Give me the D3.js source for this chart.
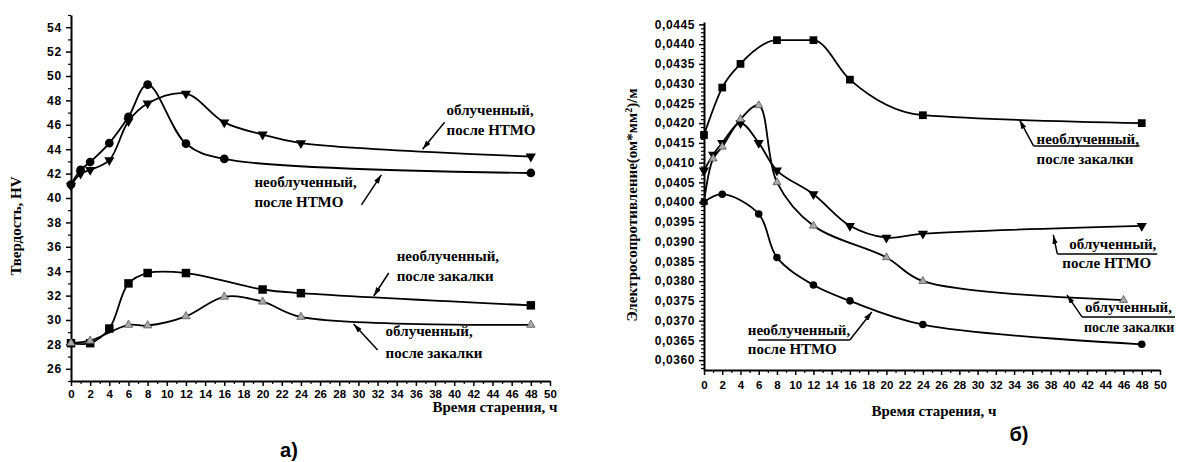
<!DOCTYPE html>
<html><head><meta charset="utf-8">
<script src="https://cdn.jsdelivr.net/npm/d3@7"></script>
<style>body{margin:0;background:#fff}svg{display:block}</style>
</head><body><svg id="c" width="1179" height="462"></svg>
<script>
// ---------- shared ----------
const hourTicks = [0,2,4,6,8,10,12,14,16,18,20,22,24,26,28,30,32,34,36,38,40,42,44,46,48,50];
const hourTickLabels = ["0","2","4","6","8","10","12","14","16","18","20","22","24","26","28","30","32","34","36","38","40","42","44","46","48","50"];

// ---------- panel a: hardness HV ----------
const hvTicks = [26,28,30,32,34,36,38,40,42,44,46,48,50,52,54];
const hvTickLabels = ["26","28","30","32","34","36","38","40","42","44","46","48","50","52","54"];
// необлученный, после НТМО (circles)
const hvUnirrTmtHours = [0,1,2,4,6,8,12,16,48];
const hvUnirrTmtValues = [41.1,42.3,42.95,44.5,46.65,49.3,44.45,43.2,42.05];
// облученный, после НТМО (down triangles)
const hvIrrTmtHours = [0,1,2,4,6,8,12,16,20,24,48];
const hvIrrTmtValues = [41.0,42.0,42.3,43.1,46.3,47.75,48.55,46.2,45.2,44.5,43.4];
// необлученный, после закалки (squares)
const hvUnirrQuenchHours = [0,2,4,6,8,12,20,24,48];
const hvUnirrQuenchValues = [28.1,28.1,29.3,33.0,33.85,33.85,32.5,32.2,31.2];
// облученный, после закалки (up triangles)
const hvIrrQuenchHours = [0,2,6,8,12,16,20,24,48];
const hvIrrQuenchValues = [28.1,28.3,29.6,29.55,30.3,31.9,31.5,30.25,29.6];

// ---------- panel b: resistivity ----------
const resTicks = [0.0360,0.0365,0.0370,0.0375,0.0380,0.0385,0.0390,0.0395,0.0400,0.0405,0.0410,0.0415,0.0420,0.0425,0.0430,0.0435,0.0440,0.0445];
const resTickLabels = ["0,0360","0,0365","0,0370","0,0375","0,0380","0,0385","0,0390","0,0395","0,0400","0,0405","0,0410","0,0415","0,0420","0,0425","0,0430","0,0435","0,0440","0,0445"];
// необлученный, после закалки (squares)
const resUnirrQuenchHours = [0,2,4,8,12,16,24,48];
const resUnirrQuenchValues = [0.0417,0.0429,0.0435,0.0441,0.0441,0.0431,0.0422,0.0420];
// облученный, после НТМО (down triangles)
const resIrrTmtHours = [0,1,2,4,6,8,12,16,20,24,48];
const resIrrTmtValues = [0.0408,0.0412,0.0415,0.0420,0.0415,0.0408,0.0402,0.0394,0.0391,0.0392,0.0394];
// облученный, после закалки (up triangles)
const resIrrQuenchHours = [0,1,2,4,6,8,12,20,24,46];
const resIrrQuenchValues = [0.0400,0.0411,0.0414,0.0421,0.04245,0.0405,0.0394,0.0386,0.0380,0.03752];
// необлученный, после НТМО (circles)
const resUnirrTmtHours = [0,2,6,8,12,16,24,48];
const resUnirrTmtValues = [0.0400,0.0402,0.0397,0.0386,0.0379,0.0375,0.0369,0.0364];

const zip = (a,b) => a.map((v,i)=>[v,b[i]]);

const svg = d3.select("#c");
svg.append("rect").attr("width",1179).attr("height",462).attr("fill","#fff");
const defs = svg.append("defs");
defs.append("marker").attr("id","ah").attr("viewBox","0 0 10 6").attr("refX",10).attr("refY",3)
  .attr("markerWidth",9).attr("markerHeight",5.4).attr("markerUnits","userSpaceOnUse").attr("orient","auto")
  .append("path").attr("d","M0,0L10,3L0,6z").attr("fill","#000");

const SANS = "'Liberation Sans', Arial, sans-serif";
const SERIF = "'Liberation Serif', 'Times New Roman', serif";

function styleAxis(sel, fs, ls){
  sel.select(".domain").attr("stroke","#000").attr("stroke-width",2);
  sel.selectAll(".tick line").attr("stroke","#000").attr("stroke-width",1.5);
  sel.selectAll(".tick text").attr("fill","#000").style("font-family",SANS)
    .style("font-weight","bold").style("font-size",fs+"px").style("letter-spacing",ls+"px");
}

function panel(c){
  const g = svg.append("g");
  const x = d3.scaleLinear().domain([0,50]).range(c.xRange);
  const y = d3.scaleLinear().domain(c.yDomain).range(c.yRange);
  const y0 = c.yRange[0];
  // minor x ticks
  g.append("g").attr("transform",`translate(0,${y0})`)
    .call(d3.axisBottom(x).tickValues(d3.range(1,50,2)).tickSize(3).tickFormat(""))
    .call(s=>{s.select(".domain").remove(); s.selectAll("line").attr("stroke","#000").attr("stroke-width",1.2);});
  // major x axis
  g.append("g").attr("transform",`translate(0,${y0})`)
    .call(d3.axisBottom(x).tickValues(hourTicks).tickSize(5).tickSizeOuter(0).tickPadding(c.xPad)
      .tickFormat((d,i)=>hourTickLabels[i]))
    .call(s=>styleAxis(s,c.xfs,0));
  // minor y ticks
  g.append("g").attr("transform",`translate(${x(0)},0)`)
    .call(d3.axisLeft(y).tickValues(c.yMinor).tickSize(3).tickFormat(""))
    .call(s=>{s.select(".domain").remove(); s.selectAll("line").attr("stroke","#000").attr("stroke-width",1.2);});
  // major y axis
  g.append("g").attr("transform",`translate(${x(0)},0)`)
    .call(d3.axisLeft(y).tickValues(c.yTicks).tickSize(5).tickSizeOuter(0).tickPadding(4)
      .tickFormat((d,i)=>c.yLabels[i]))
    .call(s=>styleAxis(s,c.yfs,c.yls));

  const line = d3.line().x(d=>x(d[0])).y(d=>y(d[1])).curve(d3.curveCatmullRom.alpha(0.5));
  c.series.forEach(s=>{
    const pts = zip(s.h, s.v);
    g.append("path").attr("d", (s.curve ? d3.line().x(d=>x(d[0])).y(d=>y(d[1])).curve(s.curve) : line)(pts))
      .attr("fill","none").attr("stroke","#000").attr("stroke-width",1.8);
    g.selectAll(null).data(pts).join("path")
      .attr("transform",d=>`translate(${x(d[0])},${y(d[1])})${s.rot?" rotate(180)":""}`)
      .attr("d", d3.symbol().type(s.sym).size(s.size)())
      .attr("fill", s.fill).attr("stroke", s.stroke||"none").attr("stroke-width",0.8);
  });

  // annotations: tip in data units, others as pixel offsets
  c.notes.forEach(n=>{
    const tx = x(n.at[0]), ty = y(n.at[1]);
    if (n.sep){
      g.append("line").attr("x1",tx+n.sep[0]).attr("x2",tx+n.sep[1]).attr("y1",ty+n.sep[2]).attr("y2",ty+n.sep[2])
        .attr("stroke","#000").attr("stroke-width",1.5);
    }
    g.append("line").attr("x1",tx+n.tail[0]).attr("y1",ty+n.tail[1]).attr("x2",tx).attr("y2",ty)
      .attr("stroke","#000").attr("stroke-width",1.5).attr("marker-end","url(#ah)");
    n.lines.forEach(l=>{
      g.append("text").attr("x",tx+l[1]).attr("y",ty+l[2]).text(l[0])
        .style("font-family",SERIF).style("font-weight","bold").style("font-size",(l[3]||15)+"px").attr("fill","#000");
    });
  });

  // axis titles
  g.append("text").attr("x",c.xTitle[0]).attr("y",c.xTitle[1]).attr("text-anchor","middle")
    .style("font-family",SERIF).style("font-weight","bold").style("font-size","15px").text("Время старения, ч");
  const yt = g.append("text").attr("transform",`translate(${c.yTitle[0]},${c.yTitle[1]}) rotate(-90)`)
    .attr("text-anchor","middle").style("font-family",SERIF).style("font-weight","bold").style("font-size",c.ytfs+"px");
  c.yTitleParts.forEach(p=>{
    const t = yt.append("tspan").text(p[0]);
    if (p[1]) t.attr("baseline-shift","super").style("font-size","10px");
  });
  g.append("text").attr("x",c.tag[0]).attr("y",c.tag[1]).attr("text-anchor","middle")
    .style("font-family",SANS).style("font-weight","bold").style("font-size","20px").text(c.tag[2]);
}

panel({
  xRange:[71,550], yDomain:[25,55], yRange:[381,15],
  yTicks:hvTicks, yLabels:hvTickLabels, yMinor:d3.range(25,56,1).filter(v=>v%2!==0),
  xfs:11.5, xPad:4, yfs:12, yls:0.8,
  series:[
    {h:hvUnirrTmtHours, v:hvUnirrTmtValues, sym:d3.symbolCircle, size:60, fill:"#000"},
    {h:hvIrrTmtHours, v:hvIrrTmtValues, sym:d3.symbolTriangle, size:45, fill:"#000", rot:true},
    {h:hvUnirrQuenchHours, v:hvUnirrQuenchValues, sym:d3.symbolSquare, size:72, fill:"#000"},
    {h:hvIrrQuenchHours, v:hvIrrQuenchValues, sym:d3.symbolTriangle, size:30, fill:"#aaa", stroke:"#555"}
  ],
  notes:[
    {at:[36.7,44.0], tail:[22,-27], lines:[["облученный,",24,-34],["после НТМО",24,-14]]},
    {at:[32.4,41.9], tail:[-20,30], lines:[["необлученный,",-127,12],["после НТМО",-127,32]]},
    {at:[31.6,31.97], tail:[15,-23], lines:[["необлученный,",23,-35],["после закалки",23,-15]]},
    {at:[29.5,29.67], tail:[24,26], lines:[["облученный,",32,12],["после закалки",32,34]]}
  ],
  xTitle:[495,412], yTitle:[21,226], ytfs:15, yTitleParts:[["Твердость, HV"]],
  tag:[289,457,"а)"]
});

panel({
  xRange:[704,1160], yDomain:[0.03575,0.04456], yRange:[370,22],
  yTicks:resTicks, yLabels:resTickLabels, yMinor:d3.range(358,446,1).map(v=>v/10000).filter(v=>Math.round(v*10000)%5!==0),
  xfs:11.5, xPad:6, yfs:12, yls:0.6,
  series:[
    {h:resUnirrQuenchHours, v:resUnirrQuenchValues, sym:d3.symbolSquare, size:60, fill:"#000", curve:d3.curveMonotoneX},
    {h:resIrrTmtHours, v:resIrrTmtValues, sym:d3.symbolTriangle, size:45, fill:"#000", rot:true},
    {h:resIrrQuenchHours, v:resIrrQuenchValues, sym:d3.symbolTriangle, size:28, fill:"#aaa", stroke:"#555"},
    {h:resUnirrTmtHours, v:resUnirrTmtValues, sym:d3.symbolCircle, size:45, fill:"#000"}
  ],
  notes:[
    {at:[34.6,0.04208], tail:[14,26], sep:[14,120,26], lines:[["необлученный,",17,24],["после закалки",17,44]]},
    {at:[38.3,0.03917], tail:[4,19], sep:[4,104,19], lines:[["облученный,",16,14],["после НТМО",9,33]]},
    {at:[39.8,0.03765], tail:[15,22], sep:[15,108,22], lines:[["облученный,",18,17],["после закалки",17,37,14]]},
    {at:[18.4,0.03722], tail:[-22,28], sep:[-114,-22,28], lines:[["необлученный,",-124,23],["после НТМО",-124,42]]}
  ],
  xTitle:[934,416], yTitle:[637,205], ytfs:15,
  yTitleParts:[["Электросопротивление(ом*мм"],["2",true],[")/м"]],
  tag:[1019,441,"б)"]
});
</script></body></html>
